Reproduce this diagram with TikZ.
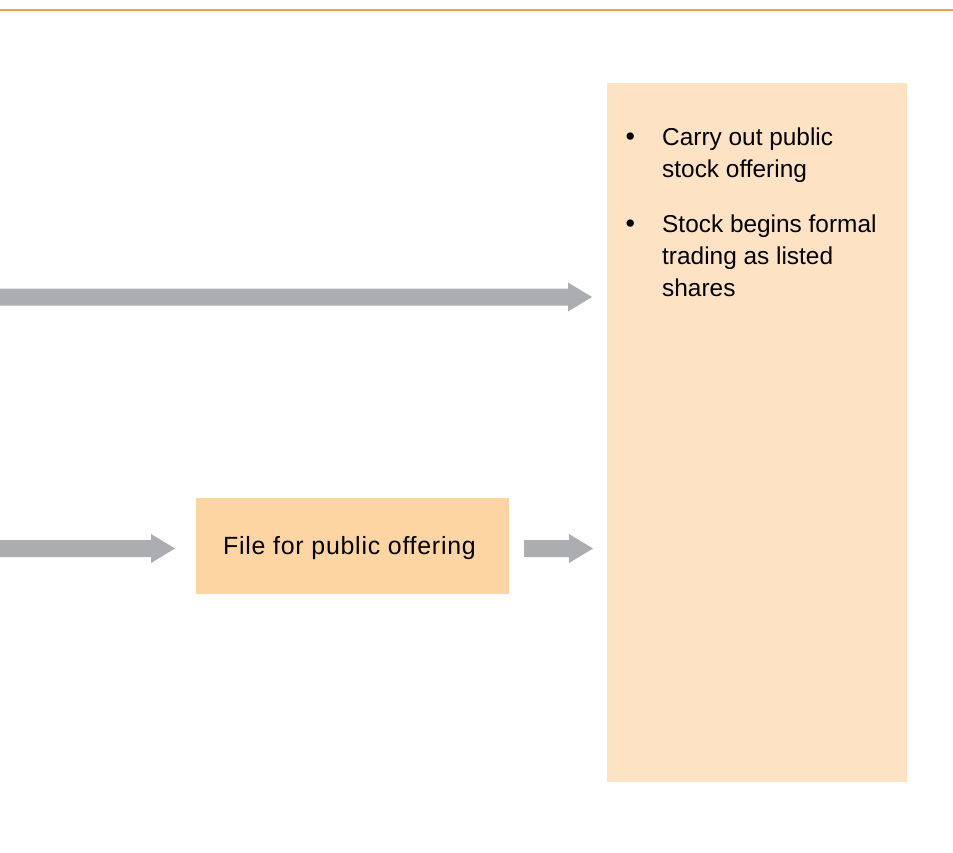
\documentclass[tikz,border=0pt]{standalone}
\usepackage{fontspec}
\setmainfont{Liberation Sans}
\usetikzlibrary{calc}
\definecolor{lineorange}{RGB}{236,160,72}
\definecolor{arrowgray}{RGB}{172,173,177}
\definecolor{bigfill}{RGB}{253,226,196}
\definecolor{midfill}{RGB}{253,213,162}
\tikzset{
  bigbox/.style={fill=bigfill, draw=none, inner sep=0pt, minimum width=300bp, minimum height=699bp, anchor=north west},
  midbox/.style={fill=midfill, draw=none, inner sep=0pt, minimum width=313bp, minimum height=96bp, anchor=north west},
  btext/.style={font=\fontsize{24.5}{32}\selectfont, anchor=base west, inner sep=0pt},
  mtext/.style={font=\fontsize{25}{32}\selectfont\addfontfeatures{LetterSpace=3}, anchor=base, inner sep=0pt},
  blkarrow/.style={fill=arrowgray, draw=none},
  ruleline/.style={draw=lineorange, line width=2bp}
}
\newcommand{\blockarr}[2]{%
  \fill[blkarrow] ($(#1)+(0,-8.5)$) -- ($(#2)+(-24,-8.5)$) -- ($(#2)+(-24,-14.5)$) -- (#2)
    -- ($(#2)+(-24,14.5)$) -- ($(#2)+(-24,8.5)$) -- ($(#1)+(0,8.5)$) -- cycle;}
\begin{document}
\begin{tikzpicture}[x=1bp,y=-1bp]
\useasboundingbox (0,0) rectangle (953,853);
\fill[white] (0,0) rectangle (953,853);
\coordinate (tl) at (0,9.5);
\coordinate (tr) at (953,9.5);
\path[ruleline] (tl) -- (tr);
% boxes
\node[bigbox] (big) at (607,83) {};
\node[midbox] (mid) at (196,498) {};
\node[mtext] (midlabel) at (349.5,554) {File for public offering};
% bullets
\node[btext] (b1dot) at (625.5,145) {\fontsize{27}{32}\selectfont•};
\node[btext] (b1l1) at (662,145) {Carry out public};
\node[btext] (b1l2) at (662,177) {stock offering};
\node[btext] (b2dot) at (625.5,232) {\fontsize{27}{32}\selectfont•};
\node[btext] (b2l1) at (662,232) {Stock begins formal};
\node[btext] (b2l2) at (662,264) {trading as listed};
\node[btext] (b2l3) at (662,296) {shares};
% arrows
\coordinate (a1s) at (0,297);
\coordinate (a1e) at (592,297);
\coordinate (a2s) at (0,548.5);
\coordinate (a2e) at (175,548.5);
\coordinate (a3s) at (524,548.5);
\coordinate (a3e) at (593,548.5);
\blockarr{a1s}{a1e}
\blockarr{a2s}{a2e}
\blockarr{a3s}{a3e}
\end{tikzpicture}
\end{document}
